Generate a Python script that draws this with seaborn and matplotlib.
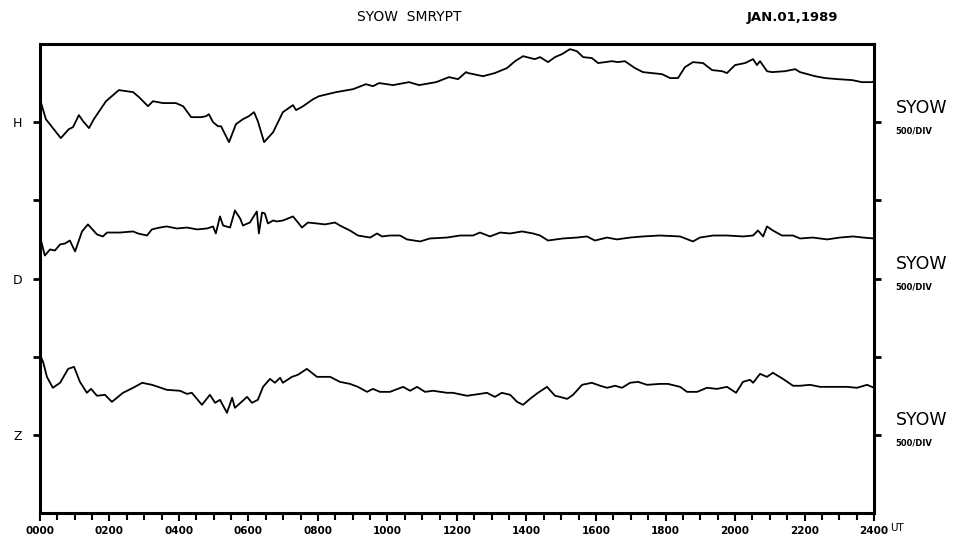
import numpy as np
import pandas as pd
import matplotlib
matplotlib.use("Agg")
import matplotlib.pyplot as plt
import seaborn as sns

# Syowa magnetogram, 1989-01-01 (nT from each trace baseline)
h_hours = [0.00, 0.17, 0.60, 0.83, 0.95, 1.12, 1.24, 1.41, 1.55, 1.90, 2.27, 2.68, 2.85, 3.11,
           3.25, 3.54, 3.91, 4.12, 4.35, 4.63, 4.78, 4.86, 4.98, 5.12, 5.21, 5.44, 5.64, 5.84,
           6.01, 6.16, 6.27, 6.45, 6.71, 6.99, 7.28, 7.37, 7.57, 7.86, 8.03, 8.52, 9.01, 9.38,
           9.58, 9.76, 10.16, 10.62, 10.91, 11.40, 11.77, 12.03, 12.26, 12.32, 12.75, 13.09,
           13.44, 13.67, 13.90, 14.24, 14.39, 14.62, 14.82, 15.02, 15.25, 15.45, 15.63, 15.88,
           16.06, 16.46, 16.63, 16.83, 17.12, 17.35, 17.90, 18.13, 18.36, 18.56, 18.79, 19.08,
           19.34, 19.63, 19.77, 20.00, 20.29, 20.52, 20.63, 20.72, 20.92, 21.06, 21.44, 21.73,
           21.87, 22.30, 22.59, 22.96, 23.37, 23.65, 23.94, 24.00]
h_nt = [147, 19, -102, -45, -32, 45, 6, -38, 19, 134, 205, 192, 160, 102,
        134, 122, 122, 102, 32, 32, 38, 51, 0, -26, -26, -128, -13, 19,
        38, 64, 6, -128, -64, 64, 109, 77, 102, 147, 166, 192, 211, 243,
        230, 250, 237, 256, 237, 256, 288, 275, 320, 314, 294, 314,
        346, 390, 422, 403, 416, 384, 416, 435, 467, 454, 416, 410,
        378, 390, 384, 390, 346, 320, 307, 282, 282, 352, 384, 378,
        333, 326, 314, 365, 378, 403, 365, 390, 326, 320, 326, 339,
        320, 294, 282, 275, 269, 256, 256, 262]

d_hours = [0.00, 0.14, 0.29, 0.43, 0.58, 0.72, 0.86, 1.01, 1.09, 1.21, 1.38, 1.64, 1.81, 1.93,
           2.30, 2.68, 2.82, 3.08, 3.22, 3.45, 3.65, 3.94, 4.23, 4.52, 4.81, 4.98, 5.06, 5.18,
           5.27, 5.47, 5.61, 5.76, 5.84, 6.04, 6.24, 6.30, 6.39, 6.47, 6.56, 6.71, 6.82, 6.99,
           7.28, 7.40, 7.54, 7.71, 7.97, 8.20, 8.49, 8.63, 8.92, 9.15, 9.50, 9.70, 9.84, 10.07,
           10.36, 10.56, 10.94, 11.22, 11.71, 12.09, 12.46, 12.66, 12.95, 13.24, 13.53, 13.87,
           14.19, 14.39, 14.62, 15.05, 15.45, 15.74, 15.97, 16.32, 16.60, 16.98, 17.35, 17.84,
           18.42, 18.79, 18.99, 19.37, 19.77, 20.23, 20.52, 20.66, 20.81, 20.92, 21.09, 21.35,
           21.67, 21.87, 22.24, 22.65, 23.02, 23.40, 23.68, 24.00]
d_nt = [269, 147, 186, 179, 218, 224, 243, 173, 224, 301, 346, 282, 269, 294,
        294, 301, 288, 275, 314, 326, 333, 320, 326, 314, 320, 333, 288, 397,
        339, 326, 435, 384, 339, 358, 429, 288, 422, 416, 352, 371, 365, 371,
        397, 365, 326, 358, 352, 346, 358, 339, 307, 275, 262, 288, 269, 275,
        275, 250, 237, 256, 262, 275, 275, 294, 269, 294, 288, 301,
        288, 275, 243, 256, 262, 269, 243, 262, 250, 262, 269, 275,
        269, 237, 262, 275, 275, 269, 275, 307, 269, 333, 307, 275,
        275, 256, 262, 250, 262, 269, 262, 256]

z_hours = [0.00, 0.09, 0.20, 0.37, 0.58, 0.81, 0.98, 1.15, 1.35, 1.47, 1.64, 1.87, 2.07, 2.39,
           2.68, 2.94, 3.22, 3.40, 3.65, 4.03, 4.23, 4.37, 4.66, 4.89, 5.04, 5.18, 5.38, 5.53,
           5.61, 5.96, 6.10, 6.27, 6.42, 6.62, 6.76, 6.91, 6.99, 7.25, 7.42, 7.68, 7.97, 8.35,
           8.63, 8.92, 9.15, 9.41, 9.58, 9.78, 10.07, 10.45, 10.65, 10.85, 11.08, 11.31, 11.71,
           11.88, 12.29, 12.66, 12.86, 13.09, 13.29, 13.53, 13.73, 13.90, 14.10, 14.33, 14.59,
           14.82, 14.96, 15.17, 15.34, 15.60, 15.88, 16.12, 16.32, 16.55, 16.75, 16.98, 17.21,
           17.47, 17.84, 18.07, 18.42, 18.62, 18.91, 19.19, 19.48, 19.77, 20.03, 20.23, 20.43,
           20.52, 20.72, 20.92, 21.09, 21.38, 21.67, 21.87, 22.16, 22.45, 22.82, 23.22, 23.51,
           23.80, 24.00]
z_nt = [512, 467, 371, 301, 333, 422, 435, 339, 269, 294, 250, 256, 211, 269,
        301, 333, 320, 307, 288, 282, 262, 269, 192, 256, 205, 224, 141, 237,
        173, 243, 205, 224, 307, 358, 333, 365, 333, 371, 384, 422, 371, 371,
        339, 326, 307, 275, 294, 275, 275, 307, 282, 307, 275, 282, 269,
        269, 250, 262, 269, 243, 269, 256, 211, 192, 230, 269, 307,
        250, 243, 230, 256, 320, 333, 314, 301, 314, 301, 333, 339,
        320, 326, 326, 307, 275, 275, 301, 294, 307, 269, 339, 352,
        333, 390, 371, 397, 358, 314, 314, 320, 307, 307, 307, 301,
        320, 301]

components = ["H", "D", "Z"]
baselines = [5, 3, 1]          # trace baseline, in divisions
nt_per_div = 500
x_labels = ["0000", "0200", "0400", "0600", "0800", "1000", "1200",
            "1400", "1600", "1800", "2000", "2200", "2400"]

frames = []
for comp, base, hrs, vals in zip(components, baselines,
                                 [h_hours, d_hours, z_hours], [h_nt, d_nt, z_nt]):
    frames.append(pd.DataFrame({"hour": hrs,
                                "div": base + np.array(vals) / nt_per_div,
                                "comp": comp}))
df = pd.concat(frames, ignore_index=True)

sns.set_style("white")
plt.rcParams["font.family"] = ["DejaVu Sans"]
plt.rcParams["text.color"] = "black"
plt.rcParams["xtick.color"] = "black"
plt.rcParams["ytick.color"] = "black"

fig = plt.figure(figsize=(9.63, 5.43), dpi=100)
ax = fig.add_axes([0.0415, 0.0552, 0.8661, 0.8638])

for comp in components:
    sns.lineplot(data=df[df["comp"] == comp], x="hour", y="div", ax=ax,
                 color="black", linewidth=1.3, estimator=None, sort=False)

ax.set_xlim(0, 24)
ax.set_ylim(0, 6)
ax.set_xlabel("")
ax.set_ylabel("")

for s in ax.spines.values():
    s.set_linewidth(2.2)
    s.set_color("black")

ax.set_xticks(np.arange(0, 25, 2))
ax.set_xticks(np.arange(0, 24.1, 0.5), minor=True)
ax.set_xticklabels(x_labels, fontsize=7.5, fontweight="bold")
ax.tick_params(axis="x", which="both", direction="out", bottom=True, top=False,
               width=1.5, color="black", labelcolor="black", pad=3)
ax.tick_params(axis="x", which="major", length=6)
ax.tick_params(axis="x", which="minor", length=5)

ax.set_yticks([1, 2, 3, 4, 5])
ax.set_yticklabels(["Z", "", "D", "", "H"], fontsize=9)
ax.tick_params(axis="y", which="major", direction="out", left=True, right=True,
               length=5, width=2, color="black", labelcolor="black", pad=8)

ax.text(24.47, -0.19, "UT", transform=ax.transData, fontsize=7.5,
        va="center", ha="left", clip_on=False)

for base in baselines:
    ax.text(1.026, base + 0.07, "SYOW", transform=ax.get_yaxis_transform(),
            fontsize=12.5, va="bottom", ha="left")
    ax.text(1.026, base - 0.05, "500/DIV", transform=ax.get_yaxis_transform(),
            fontsize=6, fontweight="bold", va="top", ha="left")

fig.text(409 / 963, 1 - 17 / 543, "SYOW  SMRYPT", fontsize=10, ha="center", va="center")
fig.text(792 / 963, 1 - 17 / 543, "JAN.01,1989", fontsize=9.5, fontweight="bold",
         ha="center", va="center")

fig.savefig("out.png", dpi=100, facecolor="white")
